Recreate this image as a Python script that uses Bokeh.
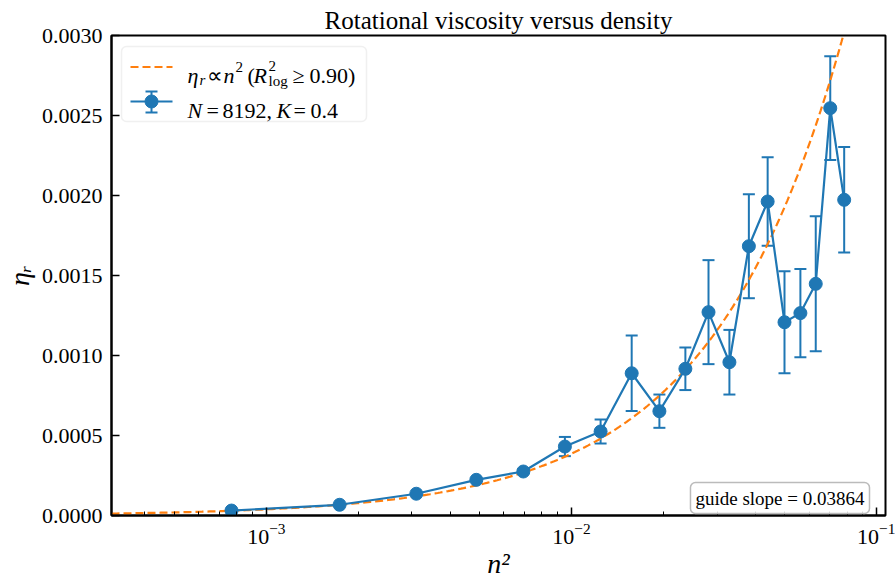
import numpy as np
from bokeh.plotting import figure
from bokeh.models import (Range1d, LinearScale, ColumnDataSource, Whisker, TeeHead,
                          SingleIntervalTicker, PrintfTickFormatter, LogTicker,
                          BoxAnnotation, Label)
from bokeh.core.properties import value
from bokeh.embed import file_html
from bokeh.resources import INLINE

# ---- data ----
n2 = [7.69e-4, 1.738e-3, 3.10e-3, 4.875e-3, 6.95e-3, 9.51e-3, 1.245e-2, 1.574e-2,
      1.94e-2, 2.36e-2, 2.81e-2, 3.29e-2, 3.81e-2, 4.39e-2, 4.985e-2, 5.62e-2,
      6.31e-2, 7.04e-2, 7.82e-2]
eta = [3.1e-5, 6.7e-5, 1.36e-4, 2.23e-4, 2.75e-4, 4.31e-4, 5.25e-4, 8.89e-4,
       6.52e-4, 9.17e-4, 1.271e-3, 9.58e-4, 1.683e-3, 1.9625e-3, 1.208e-3, 1.265e-3,
       1.448e-3, 2.546e-3, 1.973e-3]
err = [2e-6, 3e-6, 5e-6, 8e-6, 1.2e-5, 6.0e-5, 7.5e-5, 2.36e-4,
       1.04e-4, 1.33e-4, 3.25e-4, 2.02e-4, 3.25e-4, 2.77e-4, 3.19e-4, 2.76e-4,
       4.22e-4, 3.24e-4, 3.3e-4]
guide_slope = 0.03864
x_lo, x_hi = 3.11e-4, 0.1068

BLUE = "#1f77b4"
ORANGE = "#ff7f0e"
FONT = "Liberation Serif"

FW, FH = 774, 480
FL, FT = 111, 35          # frame left / top in page pixels
FB = FT + FH

p = figure(x_axis_type="log", x_range=Range1d(x_lo, x_hi), y_range=Range1d(0, 0.003),
           frame_width=FW, frame_height=FH, output_backend="svg", toolbar_location=None,
           min_border_left=FL, min_border_right=895 - FL - FW, min_border_top=FT,
           min_border_bottom=583 - FB,
           title="Rotational viscosity versus density")
p.extra_x_ranges = {"px": Range1d(0, FW)}
p.extra_y_ranges = {"py": Range1d(0, FH)}
p.extra_x_scales = {"px": LinearScale()}
p.extra_y_scales = {"py": LinearScale()}

p.background_fill_color = "white"
p.border_fill_color = "white"
p.outline_line_color = "black"
p.outline_line_width = 2
p.xgrid.visible = False
p.ygrid.visible = False

p.title.align = "center"
p.title.text_font = FONT
p.title.text_font_size = "25px"
p.title.text_font_style = "normal"
p.title.text_color = "black"
p.title.standoff = 3

for ax in (p.xaxis[0], p.yaxis[0]):
    ax.axis_line_width = 2
    ax.axis_line_color = "black"
    ax.major_tick_in = 8
    ax.major_tick_out = 0
    ax.major_tick_line_width = 1.5
    ax.minor_tick_in = 4
    ax.minor_tick_out = 0
    ax.minor_tick_line_width = 1
    ax.major_label_text_font = FONT
    ax.major_label_text_font_size = "22px"
    ax.major_label_text_color = "black"
    ax.axis_label_text_font = FONT
    ax.axis_label_text_font_style = "italic"
    ax.axis_label_text_color = "black"
    ax.axis_label_text_line_height = 1.0

p.xaxis[0].ticker = LogTicker(num_minor_ticks=10)
p.xaxis[0].major_label_standoff = 8
p.xaxis[0].axis_label = "n²"
p.xaxis[0].axis_label_text_font_size = "28px"
p.xaxis[0].axis_label_standoff = 1

p.yaxis[0].ticker = SingleIntervalTicker(interval=0.0005, num_minor_ticks=0)
p.yaxis[0].formatter = PrintfTickFormatter(format="%.4f")
p.yaxis[0].minor_tick_line_color = None
p.yaxis[0].major_label_standoff = 9
p.yaxis[0].axis_label = "ηᵣ"
p.yaxis[0].axis_label_text_font_size = "28px"
p.yaxis[0].axis_label_standoff = 4

# guide line
gx = np.geomspace(x_lo, x_hi, 300)
gy = guide_slope * gx
p.line(gx, gy, line_color=ORANGE, line_width=2.2, line_dash="8 4")

# data with error bars
src = ColumnDataSource(dict(x=n2, y=eta,
                            lo=[a - b for a, b in zip(eta, err)],
                            hi=[a + b for a, b in zip(eta, err)]))
wh = Whisker(source=src, base="x", upper="hi", lower="lo", dimension="height",
             line_color=BLUE, line_width=2, level="underlay",
             upper_head=TeeHead(size=12, line_color=BLUE, line_width=2),
             lower_head=TeeHead(size=12, line_color=BLUE, line_width=2))
p.add_layout(wh)
p.line("x", "y", source=src, line_color=BLUE, line_width=2.2)
p.scatter("x", "y", source=src, size=13, marker="circle", fill_color=BLUE, line_color=BLUE)

# ---- custom legend (pixel coords relative to frame: x right, y up) ----
def px(x):
    return x - FL
def py(y):
    return FB - y

leg = BoxAnnotation(left=px(121), right=px(366), top=py(46), bottom=py(121),
                    left_units="screen", right_units="screen", top_units="screen",
                    bottom_units="screen", fill_color="white", fill_alpha=0.85,
                    line_color="#cccccc", line_width=1.5, border_radius=5)
p.add_layout(leg)

p.line([px(130), px(172)], [py(66.5), py(66.5)], x_range_name="px", y_range_name="py",
       line_color=ORANGE, line_width=2.2, line_dash="8 4", level="overlay")
p.line([px(130), px(172)], [py(101), py(101)], x_range_name="px", y_range_name="py",
       line_color=BLUE, line_width=2.2, level="overlay")
p.segment([px(151)], [py(91)], [px(151)], [py(112)], x_range_name="px", y_range_name="py",
          line_color=BLUE, line_width=2, level="overlay")
p.segment([px(145), px(145)], [py(91), py(112)], [px(157), px(157)], [py(91), py(112)],
          x_range_name="px", y_range_name="py", line_color=BLUE, line_width=2, level="overlay")
p.scatter([px(151)], [py(101)], x_range_name="px", y_range_name="py", size=13,
          marker="circle", fill_color=BLUE, line_color=BLUE, level="overlay")

def txt(x, y, s, size="22px", style="normal"):
    p.text([px(x)], [py(y)], text=[s], x_range_name="px", y_range_name="py",
           text_font=value(FONT), text_font_size=size, text_font_style=style,
           text_color="black", text_baseline="alphabetic", text_align="left",
           level="overlay")

# row 1: ηr ∝ n² (R²log ≥ 0.90)
b1 = 75
txt(187, b1, "η", style="italic")
txt(199, b1 + 4, "r", size="15px", style="italic")
txt(206, b1, "∝")
txt(223, b1, "n", style="italic")
txt(235, b1 - 9, "2", size="15px")
txt(247, b1, "(")
txt(253, b1, "R", style="italic")
txt(268, b1 - 10, "2", size="15px")
txt(268, b1 + 5, "log", size="15px")
txt(292, b1, "≥")
txt(309, b1, "0.90)")

# row 2: N = 8192, K = 0.4
b2 = 110
txt(187, b2, "N", style="italic")
txt(206, b2, "=")
txt(222, b2, "8192,")
txt(276, b2, "K", style="italic")
txt(293, b2, "=")
txt(310, b2, "0.4")

# guide slope box
gl = Label(x=px(869), y=py(497.5), x_units="screen", y_units="screen",
           text=f"guide slope = {guide_slope:.5f}", text_font=FONT, text_font_size="19px",
           text_color="black", text_align="right", text_baseline="middle",
           background_fill_color="white", background_fill_alpha=0.85,
           border_line_color="#bbbbbb", border_line_width=1.5, border_radius=5,
           padding=5)
p.add_layout(gl)

open("out.html", "w").write(file_html(p, INLINE))
